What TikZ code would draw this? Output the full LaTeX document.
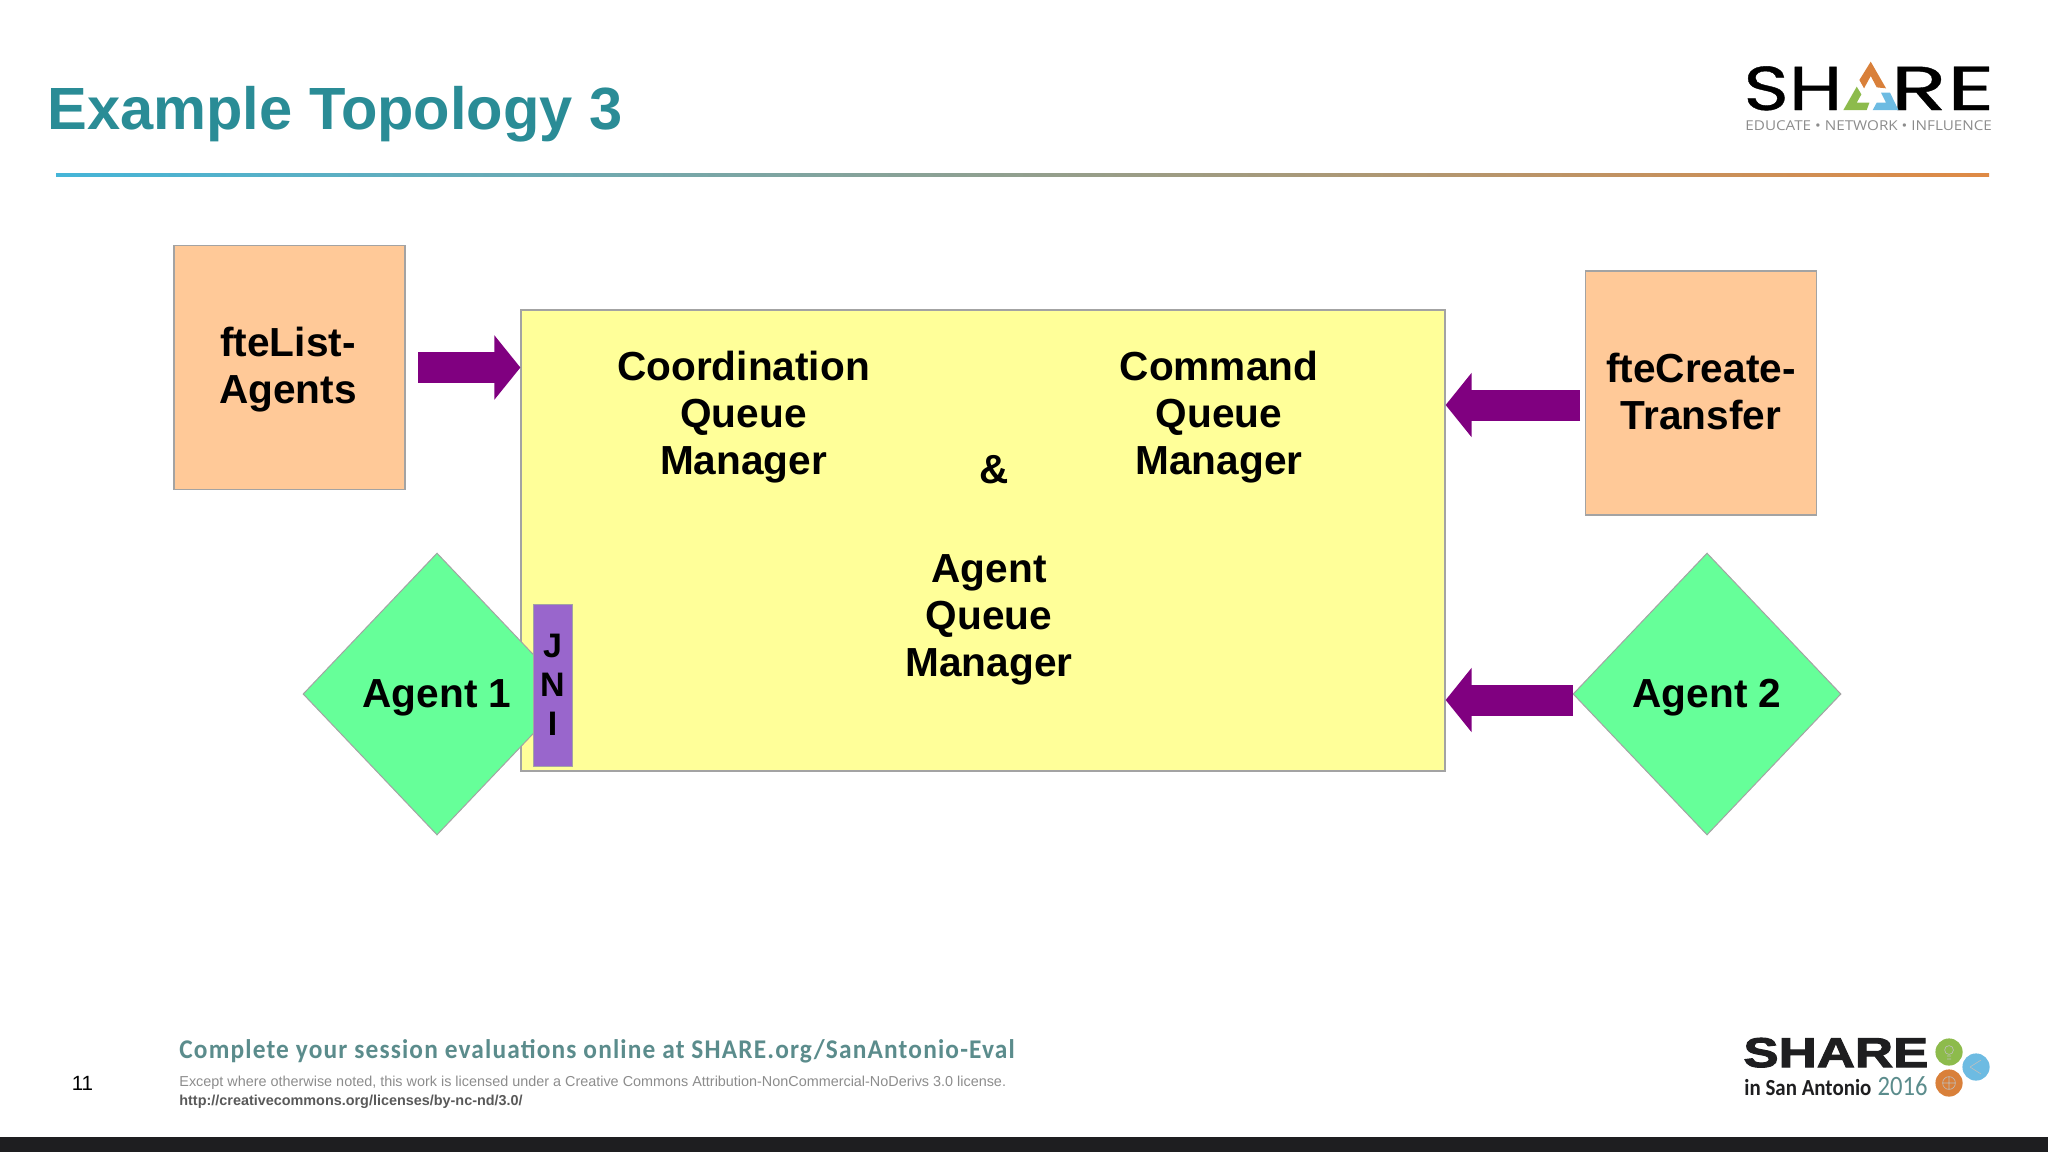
\documentclass[tikz,border=0pt]{standalone}
\usepackage{fontspec}
\setmainfont{Liberation Sans}
\newfontfamily\evalfont[LetterSpace=4.3,FakeStretch=0.94]{Carlito Bold}
\newfontfamily\cityfont[FakeStretch=0.91]{Carlito Bold}
\newfontfamily\logofont[FakeStretch=1.25,FakeBold=0.6]{Poppins}
\newfontfamily\logowidefont[FakeStretch=1.5,FakeBold=0.6]{Poppins}
\newfontfamily\tagfont[FakeStretch=1.12]{Open Sans}
\newfontfamily\heavyfont[FakeBold=2.5,FakeStretch=1.27]{Liberation Sans Bold}
\newfontfamily\yearfont[FakeStretch=0.88]{Carlito}
\usetikzlibrary{arrows.meta,shapes.geometric}
\definecolor{titleteal}{HTML}{2A8C96}
\definecolor{evalteal}{HTML}{5B8C8C}
\definecolor{boxorange}{HTML}{FFC998}
\definecolor{boxyellow}{HTML}{FFFF99}
\definecolor{boxgreen}{HTML}{66FF99}
\definecolor{boxpurple}{HTML}{9966CC}
\definecolor{arrowpurple}{HTML}{800080}
\definecolor{edgegray}{HTML}{A3A3A3}
\definecolor{barblack}{HTML}{1E1E20}
\definecolor{logoorange}{HTML}{D9803A}
\definecolor{logogreen}{HTML}{8DBB4C}
\definecolor{logoblue}{HTML}{6DBBE2}
\definecolor{ruleblue}{HTML}{45B5D8}
\definecolor{rulegreen}{HTML}{8DB957}
\definecolor{ruleorange}{HTML}{DF8A45}
\tikzset{
  labeltext/.style={align=center,inner sep=0pt,text=black,font=\fontsize{20.3}{23.5}\selectfont\bfseries},
  toolbox/.style={labeltext,draw=edgegray,line width=0.6pt,fill=boxorange,minimum width=115.5pt,minimum height=122pt},
  agentnode/.style={labeltext,diamond,aspect=1,draw=edgegray,line width=0.5pt,fill=boxgreen,minimum width=134pt,minimum height=141pt,text height=17.2pt,text depth=4.2pt},
  blockarrow/.style={draw=arrowpurple,line width=15.5pt,-{Triangle[length=13pt,width=31.5pt,fill=arrowpurple]}},
  iconline/.style={line width=0.3pt,draw=white!75!black}
}
\begin{document}
\begin{tikzpicture}[x=0.5pt,y=-0.5pt]
    \useasboundingbox (0,0) rectangle (2048,1152);
    % title and rule
    \node[anchor=base west,inner sep=0pt,text=titleteal,font=\fontsize{29.8}{32}\selectfont\bfseries] (title) at (47,129.5) {Example Topology 3};
    \shade[left color=ruleblue,middle color=rulegreen,right color=ruleorange] (56,173) rectangle (1989,176);
    % boxes
    \node[labeltext,draw=edgegray,line width=0.6pt,fill=boxyellow,minimum width=462pt,minimum height=230.5pt] (queues) at (983,540.5) {};
    \node[toolbox] (fteList) at (289.5,367.5) {};
    \node[labeltext] (fteListText) at (288,370) {fteList-\\Agents};
    \node[toolbox] (fteCreate) at (1701,393) {};
    \node[labeltext] (fteCreateText) at (1701,391.5) {fteCreate-\\Transfer};
    \node[agentnode] (agentA) at (437,694) {Agent 1};
    \node[agentnode] (agentB) at (1707,694) {Agent 2};
    \node[draw=edgegray,line width=0.5pt,fill=boxpurple,minimum width=19.5pt,minimum height=81pt,inner sep=0pt,align=center,font=\fontsize{17}{19.5}\selectfont\bfseries] (jni) at (552.5,685) {J\\N\\I};
    % texts inside the big box
    \node[labeltext] (coordQM) at (743.5,417) {Coordination\\Queue\\Manager};
    \node[labeltext] (commandQM) at (1219,417) {Command\\Queue\\Manager};
    \node[labeltext] (andsign) at (994,470) {\&};
    \node[labeltext] (agentQM) at (989,620) {Agent\\Queue\\Manager};
    % arrows
    \coordinate (arrowA) at (418,367.5);
    \coordinate (arrowB) at (1580,405);
    \coordinate (arrowC) at (agentB.west |- 0,700);
    \draw[blockarrow] (arrowA) -- (arrowA -| queues.west);
    \draw[blockarrow] (arrowB) -- (arrowB -| queues.east);
    \draw[blockarrow] (arrowC) -- (arrowC -| queues.east);
    % top logo
    \node[anchor=base west,inner sep=0pt,text height=21pt,text depth=0pt,font=\logofont\fontsize{31}{31}\selectfont] (logoSH) at (1743,110) {SH};
    \node[anchor=base east,inner sep=0pt,text height=21pt,text depth=0pt,font=\logowidefont\fontsize{31}{31}\selectfont] (logoRE) at (1995,110) {RE};
    \begin{scope}[shift={(1700,30)},x=0.1667pt,y=-0.1667pt]
      \fill[logoorange] (512,95) -- (558,175) -- (530,172) -- (512,138) -- (492,175) -- (478,150) -- cycle;
      \fill[logogreen] (470,170) -- (430,240) -- (500,240) -- (508,218) -- (470,218) -- (484,193) -- cycle;
      \fill[logoblue] (518,240) -- (595,240) -- (570,188) -- (543,188) -- (558,218) -- (530,218) -- cycle;
    \end{scope}
    \node[anchor=base west,inner sep=0pt,text=black!45,font=\tagfont\fontsize{6.8}{8}\selectfont] (tagline) at (1745,130) {EDUCATE • NETWORK • INFLUENCE};
    % footer
    \node[anchor=base,inner sep=0pt,font=\fontsize{10.3}{12}\selectfont] (pagenum) at (82.5,1090) {11};
    \node[anchor=base west,inner sep=0pt,text=evalteal,font=\evalfont\fontsize{13.5}{16}\selectfont] (evalline) at (179,1058) {Complete your session evaluations online at SHARE.org/SanAntonio-Eval};
    \node[anchor=base west,inner sep=0pt,text=black!45,font=\fontsize{7.2}{9}\selectfont] (license) at (179,1086) {Except where otherwise noted, this work is licensed under a Creative Commons Attribution-NonCommercial-NoDerivs 3.0 license.};
    \node[anchor=base west,inner sep=0pt,text=black!65,font=\fontsize{7.2}{9}\selectfont\bfseries] (licenseurl) at (179,1105) {http://creativecommons.org/licenses/by-nc-nd/3.0/};
    % bottom logo
    \node[anchor=base west,inner sep=0pt,text=barblack,font=\heavyfont\fontsize{20.8}{21}\selectfont] (logoShare) at (1743,1067) {SHARE};
    \node[anchor=base west,inner sep=0pt,text=barblack,font=\cityfont\fontsize{11.5}{12}\selectfont] (logoCity) at (1744,1095) {in San Antonio};
    \node[anchor=base east,inner sep=0pt,text=evalteal,font=\yearfont\fontsize{14}{14}\selectfont] (logoYear) at (1928,1095) {2016};
    \fill[logogreen] (1949,1052) circle (6.8pt);
    \fill[logoblue] (1976,1067) circle (6.8pt);
    \fill[logoorange] (1949,1083) circle (6.8pt);
    % small icons
    \draw[iconline] (1949,1050) circle (2.2pt) (1947,1056) -- (1951,1056) (1947,1059) -- (1951,1059);
    \draw[iconline] (1970,1067) -- (1981,1060) (1970,1067) -- (1981,1074);
    \draw[iconline] (1949,1083) circle (3.2pt) (1943,1083) -- (1955,1083) (1949,1077) -- (1949,1089);
    % black bar
    \fill[barblack] (0,1137) rectangle (2048,1152);
\end{tikzpicture}
\end{document}
